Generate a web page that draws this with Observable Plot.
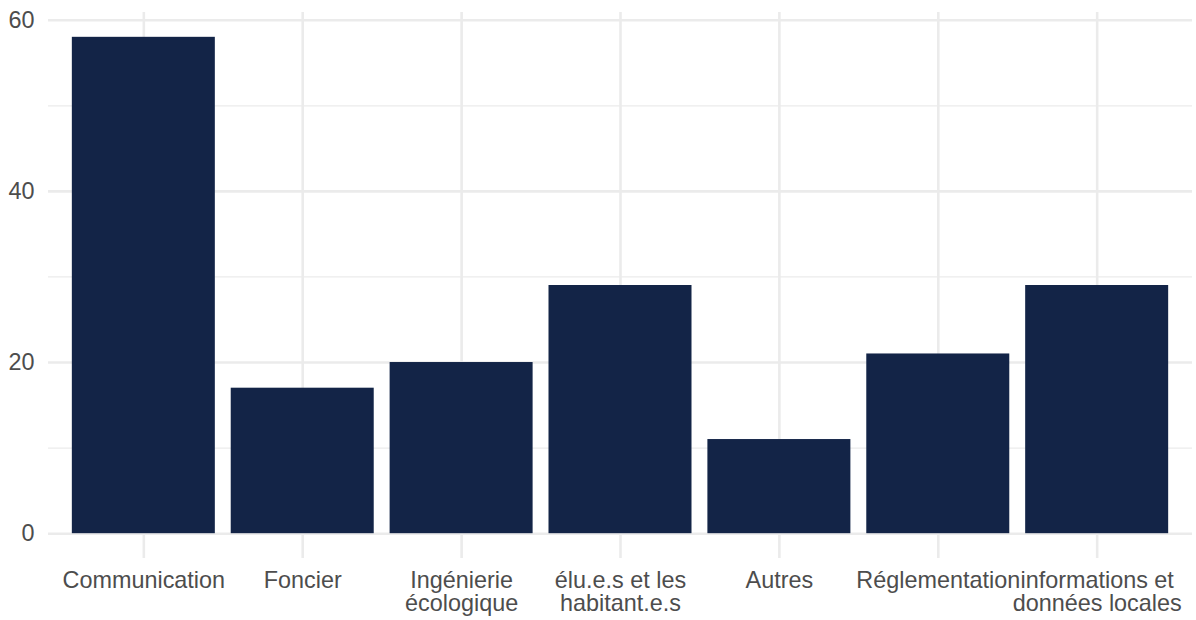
<!DOCTYPE html>
<html>
<head>
<meta charset="utf-8">
<script src="https://cdn.jsdelivr.net/npm/d3@7"></script>
<script src="https://cdn.jsdelivr.net/npm/@observablehq/plot@0.6"></script>
<style>
  html, body { margin: 0; padding: 0; background: #ffffff; }
  #chart svg { display: block; }
</style>
</head>
<body>
<div id="chart"></div>
<script>
const categories = ["Communication", "Foncier", "Ingénierie écologique", "élu.e.s et les habitant.e.s", "Autres", "Réglementation", "informations et données locales"];
const values = [58, 17, 20, 29, 11, 21, 29];
const tickLabels = ["Communication", "Foncier", "Ingénierie\nécologique", "élu.e.s et les\nhabitant.e.s", "Autres", "Réglementation", "informations et\ndonnées locales"];
const majorTicks = [0, 20, 40, 60];
const minorTicks = [10, 30, 50];

const data = categories.map((c, i) => ({category: c, value: values[i]}));
const labelOf = new Map(categories.map((c, i) => [c, tickLabels[i]]));

const font = "'Liberation Sans', Arial, Helvetica, sans-serif";
const ymax = d3.max(values);
const pad = ymax * 0.05;

const chart = Plot.plot({
  width: 1196,
  height: 620,
  marginLeft: 48,
  marginRight: 4,
  marginTop: 12,
  marginBottom: 62,
  style: {fontFamily: font, background: "#ffffff"},
  x: {domain: categories, paddingInner: 0.1, paddingOuter: 0.15, align: 0.5, round: false, label: null},
  y: {domain: [-pad, ymax + pad], label: null},
  marks: [
    Plot.gridY(minorTicks, {stroke: "#EBEBEB", strokeOpacity: 1, strokeWidth: 1.3}),
    Plot.gridY(majorTicks, {stroke: "#EBEBEB", strokeOpacity: 1, strokeWidth: 2.6}),
    Plot.gridX(categories, {stroke: "#EBEBEB", strokeOpacity: 1, strokeWidth: 2.6}),
    Plot.barY(data, {x: "category", y1: 0, y2: "value", fill: "#132447"}),
    Plot.axisY(majorTicks, {tickSize: 0, tickPadding: 14, fontSize: 23.4, fill: "#4D4D4D", label: null}),
    Plot.axisX({tickSize: 0, tickPadding: 13.5, fontSize: 23.4, fill: "#4D4D4D", lineHeight: 0.97, tickFormat: d => labelOf.get(d), label: null})
  ]
});
document.getElementById("chart").appendChild(chart);
</script>
</body>
</html>
